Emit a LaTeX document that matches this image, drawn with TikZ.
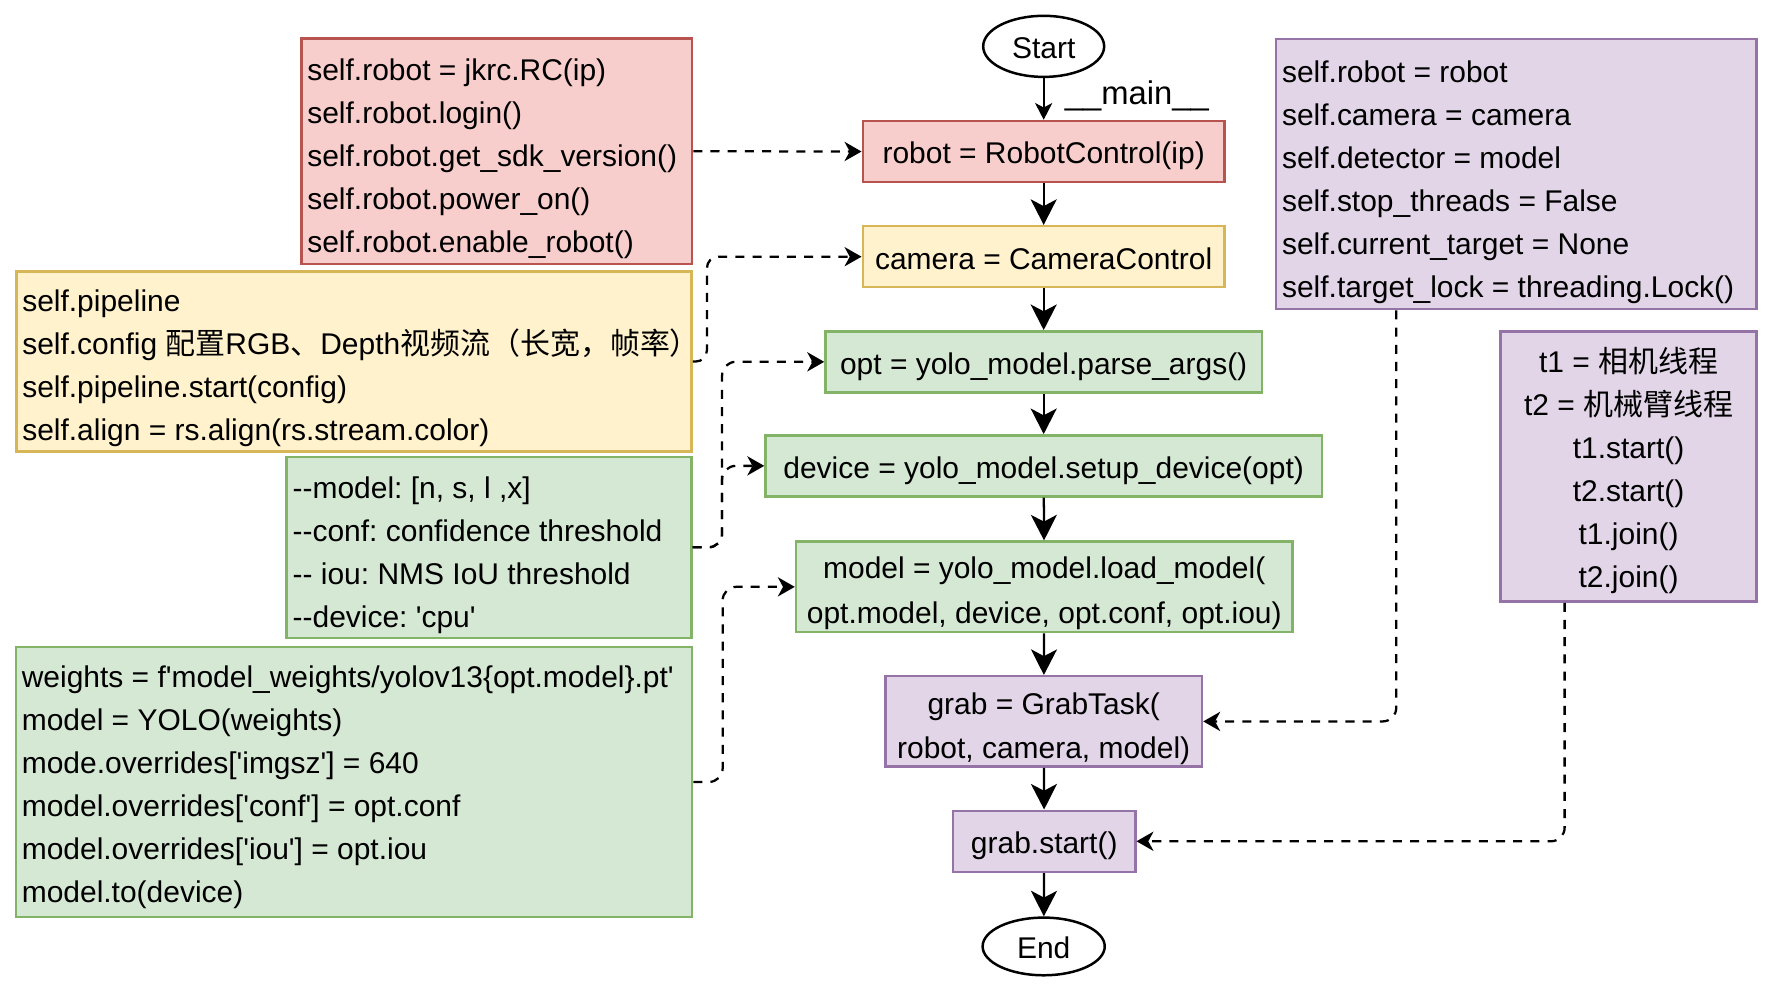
\documentclass[tikz,border=0pt]{standalone}
\usepackage{fontspec}
\setmainfont{Liberation Sans}[Ligatures=TeXOff]
\newfontfamily\cjk{Noto Sans CJK SC}
\usetikzlibrary{arrows.meta,shapes.geometric,calc}
\definecolor{redfill}{HTML}{F8CECC}\definecolor{redline}{HTML}{B85450}
\definecolor{yelfill}{HTML}{FFF2CC}\definecolor{yelline}{HTML}{D6B656}
\definecolor{grnfill}{HTML}{D5E8D4}\definecolor{grnline}{HTML}{82B366}
\definecolor{purfill}{HTML}{E1D5E7}\definecolor{purline}{HTML}{9673A6}
\frenchspacing
\begin{document}
\frenchspacing
\begin{tikzpicture}[x=0.5pt,y=-0.5pt,
  font=\fontsize{13.25}{19}\selectfont\frenchspacing,
  box/.style={draw, line width=1.1pt, rectangle, inner sep=0pt, align=center},
  redbox/.style={box, draw=redline, fill=redfill},
  yelbox/.style={box, draw=yelline, fill=yelfill},
  grnbox/.style={box, draw=grnline, fill=grnfill},
  purbox/.style={box, draw=purline, fill=purfill},
  oneline/.style={text height=12.5pt, text depth=1.5pt},
  codetext/.style={inner sep=0pt, align=left, anchor=west},
  twoline/.style={inner sep=0pt, align=center, font=\fontsize{13.25}{19.75}\selectfont\frenchspacing},
  term/.style={draw, line width=1.1pt, ellipse, inner sep=0pt, oneline},
  flow/.style={line width=1pt, -{Stealth[length=11.3pt,width=11.5pt,inset=3pt]}},
  flowsmall/.style={line width=0.75pt, -{Stealth[length=7.4pt,width=7.6pt,inset=2pt]}},
  dashedge/.style={line width=1pt, dash pattern=on 4pt off 3.6pt,
    -{Stealth[length=7.5pt,width=8.5pt,inset=2.3pt]}},
]
\fill[white] (0,0) rectangle (1568,878);

% ---- centre column ----
\node[term, minimum width=53.5pt, minimum height=27pt] (start) at (923,41) {Start};
\node[redbox, oneline, minimum width=160pt, minimum height=27pt] (robot) at (923,134) {robot = RobotControl(ip)};
\node[yelbox, oneline, minimum width=160pt, minimum height=27pt] (camera) at (923,227) {camera = CameraControl};
\node[grnbox, oneline, minimum width=193pt, minimum height=27pt] (opt) at (923,320) {opt = yolo\_model.parse\_args()};
\node[grnbox, oneline, minimum width=246pt, minimum height=27pt] (device) at (923,412) {device = yolo\_model.setup\_device(opt)};
\node[grnbox, minimum width=219.5pt, minimum height=40pt] (model) at (923.5,519) {};
\node[twoline] (modeltext) at ([yshift=-2.75pt]model.center) {model = yolo\_model.load\_model(\\opt.model, device, opt.conf, opt.iou)};
\node[purbox, minimum width=140pt, minimum height=40pt] (grab) at (923,638) {};
\node[twoline] (grabtext) at ([yshift=-3.25pt]grab.center) {grab = GrabTask(\\robot, camera, model)};
\node[purbox, oneline, minimum width=80.5pt, minimum height=27pt] (gstart) at (923.5,744) {grab.start()};
\node[term, minimum width=54pt, minimum height=25.5pt] (end) at (923,837) {End};

% ---- left boxes ----
\node[redbox, minimum width=172.75pt, minimum height=99.75pt] (rc) at (439.25,133.75) {};
\node[codetext] (rctext) at ([xshift=3pt,yshift=-3.25pt]rc.west) {self.robot = jkrc.RC(ip)\\self.robot.login()\\self.robot.get\_sdk\_version()\\self.robot.power\_on()\\self.robot.enable\_robot()};

\node[yelbox, minimum width=298.6pt, minimum height=79.75pt] (yc) at (313,319.75) {};
\node[codetext] (yctext) at ([xshift=3pt,yshift=-3pt]yc.west) {self.pipeline\\self.config {\cjk 配置}RGB{\cjk 、}Depth{\cjk 视频流（长宽，帧率）}\\self.pipeline.start(config)\\self.align = rs.align(rs.stream.color)};

\node[grnbox, minimum width=179pt, minimum height=80pt] (pc) at (432.5,484) {};
\node[codetext] (pctext) at ([xshift=3pt,yshift=-3.5pt]pc.west) {--model: [n, s, l ,x]\\--conf: confidence threshold\\-- iou: NMS IoU threshold\\--device: \textquotesingle cpu\textquotesingle};

\node[grnbox, minimum width=299pt, minimum height=119.5pt] (wc) at (313,691.5) {};
\node[codetext] (wctext) at ([xshift=3pt,yshift=-2.5pt]wc.west) {weights = f\textquotesingle model\_weights/yolov13\{opt.model\}.pt\textquotesingle\\model = YOLO(weights)\\mode.overrides[\textquotesingle imgsz\textquotesingle] = 640\\model.overrides[\textquotesingle conf\textquotesingle] = opt.conf\\model.overrides[\textquotesingle iou\textquotesingle] = opt.iou\\model.to(device)};

% ---- right boxes ----
\node[purbox, minimum width=212.5pt, minimum height=119.5pt] (pt) at (1341,153.9) {};
\node[codetext] (pttext) at ([xshift=3pt,yshift=-3.5pt]pt.west) {self.robot = robot\\self.camera = camera\\self.detector = model\\self.stop\_threads = False\\self.current\_target = None\\self.target\_lock = threading.Lock()};

\node[purbox, minimum width=113.3pt, minimum height=119.5pt] (ps) at (1440.3,412.5) {};
\node[inner sep=0pt, align=center] (pstext) at ([yshift=-1.75pt]ps.center) {t1 = {\cjk 相机线程}\\t2 = {\cjk 机械臂线程}\\t1.start()\\t2.start()\\t1.join()\\t2.join()};

% ---- main flow ----
\draw[flowsmall] (start) -- node[pos=0.5, anchor=west, inner sep=0pt, xshift=9pt, yshift=1.25pt, font=\fontsize{14.5}{17}\selectfont] (mainlbl) {\_\_main\_\_} (robot);
\draw[flow] (robot) -- (camera);
\draw[flow] (camera) -- (opt);
\draw[flow] (opt) -- (device);
\draw[flow] (device) -- (model);
\draw[flow] (model) -- (grab);
\draw[flow] (grab) -- (gstart);
\draw[flow] (gstart) -- (end);

% ---- dashed connectors ----
\draw[dashedge] (rc.east) -- (robot.west);
\draw[dashedge, rounded corners=5pt] (yc.east) -- ++(12.5,0) |- (camera.west);
\draw[dashedge, rounded corners=6pt] (pc.east) -- ++(26,0) |- (opt.west);
\draw[dashedge, rounded corners=6pt] (pc.east) -- ++(26,0) |- (device.west);
\draw[dashedge, rounded corners=6pt] (wc.east) -- ++(26,0) |- (model.west);
\draw[dashedge, rounded corners=6pt] ([xshift=-53.1pt]pt.south) |- (grab.east);
\draw[dashedge, rounded corners=6pt] ([xshift=-28.3pt]ps.south) |- (gstart.east);
\end{tikzpicture}
\end{document}
